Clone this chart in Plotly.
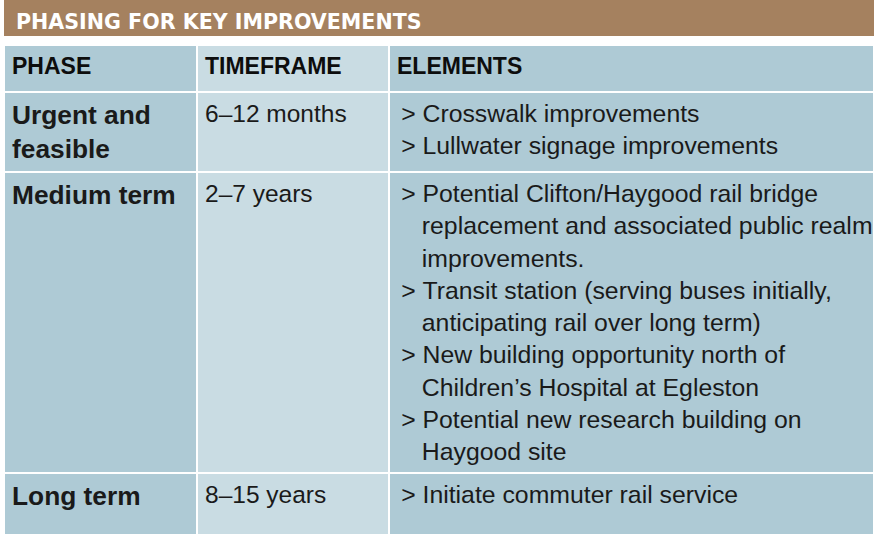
import plotly.graph_objects as go

W, H = 874, 534

title = "PHASING FOR KEY IMPROVEMENTS"
headers = ["PHASE", "TIMEFRAME", "ELEMENTS"]
phases = [["Urgent and", "feasible"], ["Medium term"], ["Long term"]]
timeframes = ["6–12 months", "2–7 years", "8–15 years"]
elements = [
    [["Crosswalk improvements"], ["Lullwater signage improvements"]],
    [
        ["Potential Clifton/Haygood rail bridge",
         "replacement and associated public realm",
         "improvements."],
        ["Transit station (serving buses initially,",
         "anticipating rail over long term)"],
        ["New building opportunity north of",
         "Children’s Hospital at Egleston"],
        ["Potential new research building on",
         "Haygood site"],
    ],
    [["Initiate commuter rail service"]],
]

BROWN = "#A5815F"
DARK = "#AECAD5"
LIGHT = "#C9DCE3"
FONT = "Liberation Sans, Arial, sans-serif"
NB = "\u00a0"
HAIR = "\u200a\u200a"
MARK = HAIR + ">" + NB
INDENT = HAIR + NB * 3


def fmt_items(items):
    lines = []
    for item in items:
        for i, ln in enumerate(item):
            lines.append((MARK if i == 0 else INDENT) + ln)
    return "<br>".join(lines)


col_phase = ["<b>" + "<br>".join(p) + "</b>" for p in phases]
col_time = ["<span>" + t + "</span>" for t in timeframes]
col_elem = [fmt_items(e) for e in elements]

fig = go.Figure()
fig.add_trace(go.Table(
    domain=dict(x=[4 / W, 1], y=[0, 1 - 45 / H]),
    columnwidth=[193, 192, 485],
    header=dict(
        values=["<b>%s</b>" % h for h in headers],
        fill_color=[DARK, LIGHT, DARK],
        line=dict(color="white", width=2),
        align="left",
        height=47,
        font=dict(family=FONT, size=23, color="#0d0d0d"),
    ),
    cells=dict(
        values=[col_phase, col_time, col_elem],
        fill_color=[DARK, LIGHT, DARK],
        line=dict(color="white", width=2),
        align="left",
        height=62,
        font=dict(family=FONT, size=[26.3, 24.5, 24.8], color="#1a1a1a"),
    ),
))

fig.add_shape(type="rect", xref="paper", yref="paper",
              x0=4 / W, x1=1, y0=1 - 36 / H, y1=1,
              fillcolor=BROWN, line=dict(width=0), layer="below")
fig.add_annotation(xref="paper", yref="paper", x=14 / W, y=1 - 21.5 / H,
                   xanchor="left", yanchor="middle", showarrow=False,
                   text="<b>%s</b>" % title,
                   font=dict(family="DejaVu Sans, sans-serif",
                             size=20.6, color="white"))

fig.update_layout(width=W, height=H, margin=dict(l=0, r=0, t=0, b=0),
                  paper_bgcolor="white", plot_bgcolor="white")

fig.write_html("out.html", config={"displayModeBar": False},
               post_script="document.body.style.margin='0';"
                           "document.body.style.overflow='hidden';")
